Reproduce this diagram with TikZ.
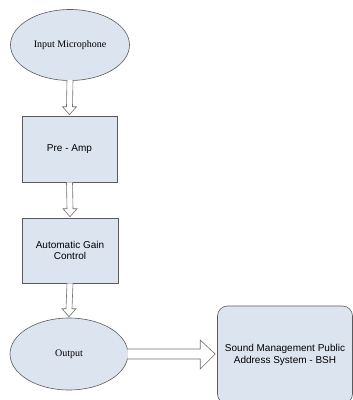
\documentclass[tikz,border=0pt]{standalone}
\usepackage{fontspec}
\setmainfont{Liberation Serif}
\setsansfont{Liberation Sans}
\usetikzlibrary{calc,shapes.geometric}
\definecolor{boxfill}{HTML}{DCE4F0}
\definecolor{boxline}{HTML}{5A5A5A}
\definecolor{arrline}{HTML}{707070}
\begin{document}
\begin{tikzpicture}[x=1pt,y=-1pt,
  blk/.style={draw=boxline, fill=boxfill, line width=0.6pt, inner sep=0pt, align=center},
  oval/.style={blk, ellipse, font=\rmfamily\fontsize{10}{11.5}\selectfont},
  sq/.style={blk, rectangle, font=\sffamily\fontsize{10}{11.5}\selectfont},
  hollow/.style={draw=arrline, fill=white, line width=0.6pt, line join=miter}]
\useasboundingbox (0,0) rectangle (353,400);
\node[oval, minimum width=119pt, minimum height=71pt] (mic) at (70,45) {Input Microphone};
\node[sq, minimum width=95pt, minimum height=66pt] (pre) at (69.5,149) {Pre - Amp};
\node[sq, minimum width=96pt, minimum height=65pt] (agc) at (70,250.5) {Automatic Gain\\Control};
\node[oval, minimum width=118pt, minimum height=72pt] (out) at (69,354) {Output};
\node[sq, rounded corners=10pt, minimum width=135pt, minimum height=98pt] (bsh) at (285,355) {Sound Management Public\\Address System - BSH};
% vertical hollow arrows
\draw[hollow] ($(mic.south)+(-3,-1)$) -- ($(pre.north)+(-3,-9)$) -- ($(pre.north)+(-7,-9)$) -- ($(pre.north)+(0,-1)$) -- ($(pre.north)+(7,-9)$) -- ($(pre.north)+(3,-9)$) -- ($(mic.south)+(3,-1)$);
\draw[hollow] ($(pre.south)+(-3,0)$) -- ($(agc.north)+(-3,-9)$) -- ($(agc.north)+(-7,-9)$) -- ($(agc.north)+(0,-1)$) -- ($(agc.north)+(7,-9)$) -- ($(agc.north)+(3,-9)$) -- ($(pre.south)+(3,0)$);
\draw[hollow] ($(agc.south)+(-3,0)$) -- ($(out.north)+(-3,-9)$) -- ($(out.north)+(-7,-9)$) -- ($(out.north)+(0,-1)$) -- ($(out.north)+(7,-9)$) -- ($(out.north)+(3,-9)$) -- ($(agc.south)+(3,0)$);
% horizontal hollow arrow
\draw[hollow] ($(out.east)+(-1,-5)$) -- ($(bsh.west)+(-17,-6)$) -- ($(bsh.west)+(-17,-15)$) -- ($(bsh.west)+(-2,-1)$) -- ($(bsh.west)+(-17,14)$) -- ($(bsh.west)+(-17,4)$) -- ($(out.east)+(-1,5)$);
\end{tikzpicture}
\end{document}
